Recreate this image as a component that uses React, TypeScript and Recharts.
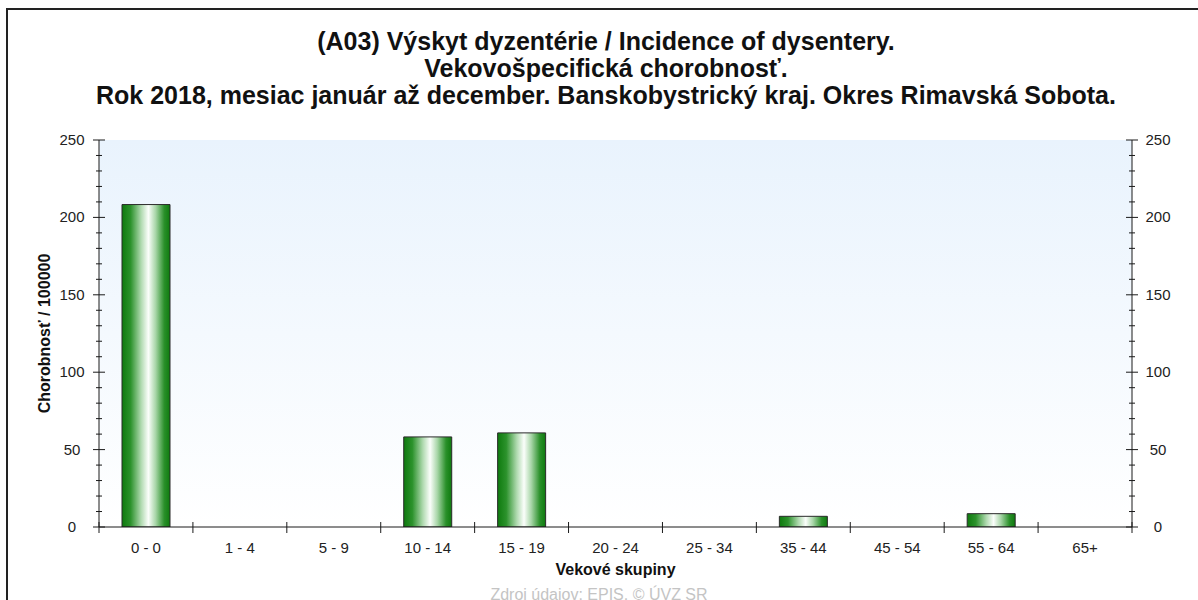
import React from 'react';
import { BarChart, Bar, XAxis, YAxis, CartesianGrid } from 'recharts';

const categories = ['0 - 0', '1 - 4', '5 - 9', '10 - 14', '15 - 19', '20 - 24', '25 - 34', '35 - 44', '45 - 54', '55 - 64', '65+'];
const incidence = [208.3, 0, 0, 58.2, 60.8, 0, 0, 6.9, 0, 8.6, 0];
const yTicks = [0, 10, 20, 30, 40, 50, 60, 70, 80, 90, 100, 110, 120, 130, 140, 150, 160, 170, 180, 190, 200, 210, 220, 230, 240, 250];
const titleLines = [
  '(A03) Výskyt dyzentérie / Incidence of dysentery.',
  'Vekovošpecifická chorobnosť.',
  'Rok 2018, mesiac január až december. Banskobystrický kraj. Okres Rimavská Sobota.',
];
const yLabel = 'Chorobnosť / 100000';
const xLabel = 'Vekové skupiny';
const sourceText = 'Zdroj údajov: EPIS, © ÚVZ SR';

const data = categories.map((group, i) => ({ group, value: incidence[i] }));

const W = 1198;
const H = 600;
const MARGIN = { top: 140, right: 6, bottom: 43, left: 59 };
const LEFT_W = 40;
const RIGHT_W = 60;
const BOTTOM_H = 30;
const PLOT_W = W - MARGIN.left - MARGIN.right - LEFT_W - RIGHT_W;
const BAND = PLOT_W / categories.length;
const FONT = '"Liberation Sans", Arial, sans-serif';
const INK = '#1a1a1a';

const LeftTick = (props: any) => {
  const { x, y, payload } = props;
  const v = payload.value;
  const major = v % 50 === 0;
  const len = major ? 6 : 3;
  return (
    <g>
      <line x1={x - len} x2={x + len} y1={y} y2={y} stroke={INK} strokeWidth={1} />
      {major && (
        <text x={x - 27} y={y + 5} textAnchor="middle" fontSize={15} fontFamily={FONT} fill="#222">
          {v}
        </text>
      )}
    </g>
  );
};

const RightTick = (props: any) => {
  const { x, y, payload } = props;
  const v = payload.value;
  const major = v % 50 === 0;
  const len = major ? 6 : 3;
  return (
    <g>
      <line x1={x - len} x2={x + len} y1={y} y2={y} stroke={INK} strokeWidth={1} />
      {major && (
        <text x={x + 26} y={y + 5} textAnchor="middle" fontSize={15} fontFamily={FONT} fill="#222">
          {v}
        </text>
      )}
    </g>
  );
};

const BottomTick = (props: any) => {
  const { x, y, payload, index } = props;
  const half = BAND / 2;
  return (
    <g>
      <line x1={x - half} x2={x - half} y1={y - 5} y2={y + 6} stroke={INK} strokeWidth={1} />
      {index === categories.length - 1 && (
        <line x1={x + half} x2={x + half} y1={y - 5} y2={y + 6} stroke={INK} strokeWidth={1} />
      )}
      <text x={x} y={y + 26} textAnchor="middle" fontSize={15} fontFamily={FONT} fill="#222">
        {payload.value}
      </text>
    </g>
  );
};

const TopTick = (props: any) => {
  const { x, y } = props;
  const half = BAND / 2;
  return (
    <g>
      <line x1={x - half} x2={x - half} y1={y} y2={y + 7} stroke={INK} strokeWidth={1} />
    </g>
  );
};

export default function App() {
  const plotTop = MARGIN.top;
  const plotBottom = H - MARGIN.bottom - BOTTOM_H;
  const plotLeft = MARGIN.left + LEFT_W;
  const plotCenterX = plotLeft + PLOT_W / 2;
  const plotCenterY = (plotTop + plotBottom) / 2;
  return (
    <div style={{ position: 'absolute', left: 0, top: 0, width: W, height: H, background: '#fff' }}>
      <BarChart width={W} height={H} data={data} margin={MARGIN} barSize={48}>
        <defs>
          <linearGradient id="plotBg" x1="0" y1="0" x2="0" y2="1">
            <stop offset="0%" stopColor="#e9f3fd" />
            <stop offset="100%" stopColor="#ffffff" />
          </linearGradient>
          <linearGradient id="barGrad" x1="0" y1="0" x2="1" y2="0">
            <stop offset="0%" stopColor="#0e7a0e" />
            <stop offset="18%" stopColor="#2c922c" />
            <stop offset="40%" stopColor="#b0dab0" />
            <stop offset="55%" stopColor="#fbfefb" />
            <stop offset="70%" stopColor="#a8d6a8" />
            <stop offset="88%" stopColor="#2a902a" />
            <stop offset="100%" stopColor="#0e7a0e" />
          </linearGradient>
        </defs>
        <rect x={7} y={9} width={1400} height={800} fill="none" stroke="#222" strokeWidth={2} />
        <CartesianGrid horizontal={false} vertical={false} fill="url(#plotBg)" fillOpacity={1} />
        {titleLines.map((t, i) => (
          <text
            key={i}
            x={606}
            y={50 + i * 27}
            textAnchor="middle"
            fontSize={25}
            fontWeight="bold"
            fontFamily={FONT}
            fill="#111"
          >
            {t}
          </text>
        ))}
        <text
          x={50}
          y={plotCenterY}
          transform={`rotate(-90, 50, ${plotCenterY})`}
          textAnchor="middle"
          fontSize={16}
          fontWeight="bold"
          fontFamily={FONT}
          fill="#111"
        >
          {yLabel}
        </text>
        <text x={plotCenterX} y={575} textAnchor="middle" fontSize={16} fontWeight="bold" fontFamily={FONT} fill="#111">
          {xLabel}
        </text>
        <text x={599} y={600} textAnchor="middle" fontSize={16} fontFamily={FONT} fill="#c4c4c4">
          {sourceText}
        </text>
        <XAxis
          dataKey="group"
          height={BOTTOM_H}
          interval={0}
          tickSize={0}
          tickMargin={0}
          tickLine={false}
          axisLine={{ stroke: INK, strokeWidth: 1 }}
          tick={<BottomTick />}
        />
        <XAxis
          xAxisId="top"
          dataKey="group"
          orientation="top"
          height={0}
          interval={0}
          tickSize={0}
          tickMargin={0}
          tickLine={false}
          axisLine={{ stroke: INK, strokeWidth: 1 }}
          tick={<TopTick />}
        />
        <YAxis
          width={LEFT_W}
          domain={[0, 250]}
          ticks={yTicks}
          interval={0}
          tickSize={0}
          tickMargin={0}
          tickLine={false}
          axisLine={{ stroke: INK, strokeWidth: 1 }}
          tick={<LeftTick />}
          allowDataOverflow
        />
        <YAxis
          yAxisId="right"
          orientation="right"
          width={RIGHT_W}
          domain={[0, 250]}
          ticks={yTicks}
          interval={0}
          tickSize={0}
          tickMargin={0}
          tickLine={false}
          axisLine={{ stroke: INK, strokeWidth: 1 }}
          tick={<RightTick />}
          allowDataOverflow
        />
        <Bar dataKey="value" fill="url(#barGrad)" stroke="#2a2a2a" strokeWidth={1} isAnimationActive={false} />
      </BarChart>
    </div>
  );
}
